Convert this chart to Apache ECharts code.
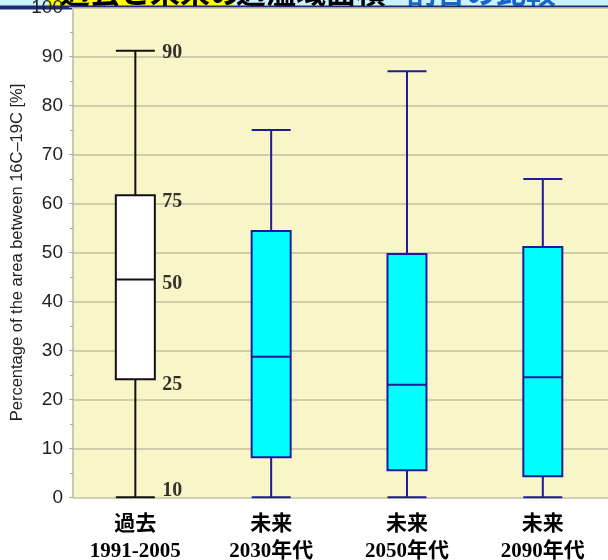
<!DOCTYPE html>
<html>
<head>
<meta charset="utf-8">
<script src="https://cdn.jsdelivr.net/npm/echarts@6/dist/echarts.min.js"></script>
<style>
  html, body { margin: 0; padding: 0; background: #ffffff; }
  #chart { width: 608px; height: 560px; }
</style>
</head>
<body>
<div id="chart"></div>
<script>
// Period categories (one box each)
const categories = ['過去\n1991-2005', '未来\n2030年代', '未来\n2050年代', '未来\n2090年代'];
const positions = [1, 2, 3, 4];

// Box statistics: 10th, 25th, 50th, 75th, 90th percentiles [%]
const p10 = [0, 0, 0, 0];
const p25 = [24.1, 8.2, 5.5, 4.3];
const p50 = [44.5, 28.7, 23.0, 24.5];
const p75 = [61.7, 54.4, 49.7, 51.1];
const p90 = [91.2, 75.0, 87.0, 65.0];

// Percentile names written beside the first box
const percentileNames = ['90', '75', '50', '25', '10'];

// Y axis ticks
const yMin = 0;
const yMax = 100;
const yStep = 10;

const axisTitle = 'Percentage of the area between 16C\u201319C [%]';

const chart = echarts.init(document.getElementById('chart'), null, { renderer: 'canvas' });

const pastStyle = { color: '#ffffff', borderColor: '#111111', borderWidth: 2 };
const futureStyle = { color: '#00ffff', borderColor: '#1c1c96', borderWidth: 2 };

const boxData = positions.map((x, i) => ({
  value: [x, p10[i], p25[i], p50[i], p75[i], p90[i]],
  itemStyle: i === 0 ? pastStyle : futureStyle
}));

// Percentile names sit next to the matching statistic of the first box
const firstBoxStats = [p90[0], p75[0], p50[0], p25[0], p10[0]];
const nameShift = [2, 7, 4, 6, -6];
const percentileData = firstBoxStats.map((v, i) => ({
  value: [positions[0], v],
  label: { formatter: percentileNames[i], offset: [0, nameShift[i]] }
}));

const latinCjk = '"Liberation Serif", "Times New Roman", "Noto Sans CJK JP", serif';

const option = {
  backgroundColor: '#ffffff',
  animation: false,
  grid: {
    left: 73, right: 0, top: 7.7, bottom: 62.7,
    outerBoundsMode: 'none',
    containLabel: false,
    show: true, backgroundColor: '#f8f6c8', borderWidth: 0
  },
  xAxis: {
    type: 'value',
    min: 0.541,
    max: 4.48,
    axisLine: { show: false },
    axisTick: { show: false },
    splitLine: { show: false },
    axisLabel: {
      customValues: positions,
      formatter: (v) => categories[Math.round(v) - 1],
      color: '#000000',
      fontFamily: latinCjk,
      fontWeight: 'bold',
      fontSize: 21,
      lineHeight: 27,
      margin: 14
    }
  },
  yAxis: {
    type: 'value',
    min: yMin,
    max: yMax,
    interval: yStep,
    name: axisTitle,
    nameLocation: 'middle',
    nameGap: 47,
    nameMoveOverlap: false,
    nameTextStyle: {
      fontFamily: '"Liberation Sans", Arial, sans-serif',
      fontSize: 16.5,
      color: '#222222'
    },
    axisLine: { show: true, lineStyle: { color: '#b9b8a6', width: 1.5 } },
    axisTick: { show: true, length: 4, lineStyle: { color: '#a8a8a0' } },
    minorTick: { show: true, splitNumber: 2, length: 3, lineStyle: { color: '#a8a8a0' } },
    splitLine: { show: true, lineStyle: { color: '#c3c09f', width: 1.5 } },
    axisLabel: {
      fontFamily: '"Liberation Sans", Arial, sans-serif',
      fontSize: 19,
      color: '#222222',
      margin: 10
    }
  },
  series: [
    {
      type: 'boxplot',
      boxWidth: [39, 39],
      data: boxData,
      z: 3
    },
    {
      type: 'scatter',
      symbolSize: 0,
      silent: true,
      data: percentileData,
      z: 4,
      label: {
        show: true,
        position: 'right',
        distance: 27,
        color: '#000000',
        fontFamily: latinCjk,
        fontWeight: 'bold',
        fontSize: 20
      }
    }
  ],
  graphic: [
    {
      type: 'group',
      z: 100,
      silent: true,
      children: [
        { type: 'rect', shape: { x: 0, y: 0, width: 608, height: 6 }, style: { fill: '#c9f3fd' } },
        { type: 'rect', shape: { x: 48, y: 0, width: 185, height: 6 }, style: { fill: '#ffff00' } },
        {
          type: 'text', x: 60, y: 7,
          style: { text: '過去と未来の', fill: '#000000', font: 'bold 30px "Noto Sans CJK JP"', verticalAlign: 'bottom' }
        },
        {
          type: 'text', x: 236, y: 7,
          style: { text: '適温域面積', fill: '#000000', font: 'bold 30px "Noto Sans CJK JP"', verticalAlign: 'bottom' }
        },
        {
          type: 'text', x: 406, y: 7,
          style: { text: '割合の比較', fill: '#1766c8', font: 'bold 30px "Noto Sans CJK JP"', verticalAlign: 'bottom' }
        },
        { type: 'rect', shape: { x: 0, y: 5.5, width: 608, height: 2.2 }, style: { fill: '#1b2b78' } },
        { type: 'rect', shape: { x: 0, y: 6.5, width: 72, height: 3 }, style: { fill: '#1b2b78' } }
      ]
    }
  ]
};

chart.setOption(option);
</script>
</body>
</html>
